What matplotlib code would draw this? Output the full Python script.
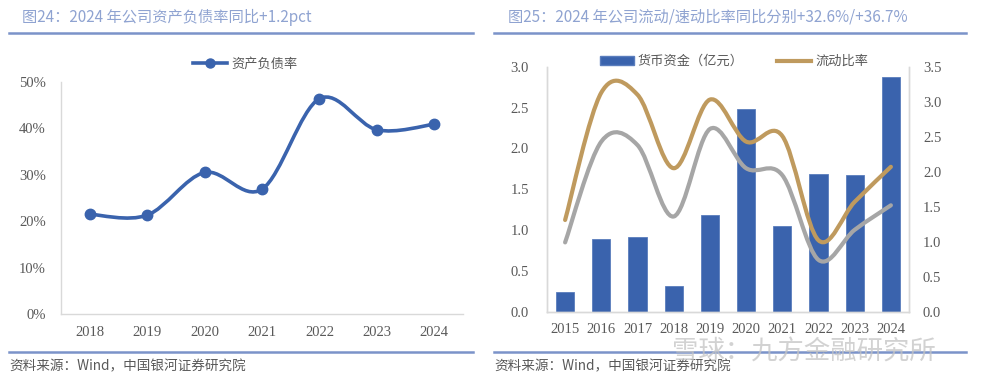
import matplotlib
matplotlib.use("Agg")
import matplotlib.pyplot as plt
from matplotlib.path import Path
from matplotlib.patches import PathPatch
from matplotlib.lines import Line2D
from matplotlib.patches import Patch
from matplotlib.ticker import FuncFormatter, MultipleLocator
import numpy as np

plt.rcParams['font.family'] = ['Noto Sans CJK SC', 'DejaVu Sans']

# ---------------- data ----------------
years_l = ['2018', '2019', '2020', '2021', '2022', '2023', '2024']
debt_ratio = [0.215, 0.213, 0.305, 0.269, 0.464, 0.397, 0.409]

years_r = ['2015', '2016', '2017', '2018', '2019', '2020', '2021', '2022', '2023', '2024']
cash = [0.24, 0.89, 0.91, 0.32, 1.19, 2.48, 1.05, 1.69, 1.68, 2.87]
current_ratio = [1.31, 3.13, 3.10, 2.05, 3.03, 2.43, 2.51, 1.02, 1.57, 2.07]
quick_ratio = [0.99, 2.43, 2.38, 1.36, 2.61, 2.05, 1.95, 0.74, 1.17, 1.52]

title_l = '图24：2024 年公司资产负债率同比+1.2pct'
title_r = '图25：2024 年公司流动/速动比率同比分别+32.6%/+36.7%'
source = '资料来源：Wind，中国银河证券研究院'
watermark = '雪球：九方金融研究所'

BLUE = '#3a63ad'
GOLD = '#bf9a5e'
GRAY = '#a6a6a6'
TXT = '#595959'
TITLE_C = '#8fa3d1'
RULE_C = '#7b93c9'
SPINE_C = '#d9d9d9'
TICKFONT = 'Liberation Serif'


def smooth_path(xs, ys):
    xs = np.asarray(xs, float)
    ys = np.asarray(ys, float)
    n = len(xs)
    verts = [(xs[0], ys[0])]
    codes = [Path.MOVETO]
    for i in range(n - 1):
        p0 = i - 1 if i > 0 else i
        p3 = i + 2 if i + 2 < n else i + 1
        c1 = (xs[i] + (xs[i + 1] - xs[p0]) / 6.0, ys[i] + (ys[i + 1] - ys[p0]) / 6.0)
        c2 = (xs[i + 1] - (xs[p3] - xs[i]) / 6.0, ys[i + 1] - (ys[p3] - ys[i]) / 6.0)
        verts += [c1, c2, (xs[i + 1], ys[i + 1])]
        codes += [Path.CURVE4] * 3
    return Path(verts, codes)


fig = plt.figure(figsize=(9.82, 3.82), dpi=100)

# ---------- decorations ----------
fig.text(22 / 982, 1 - 17 / 382, title_l, fontsize=11, color=TITLE_C, va='center', ha='left')
fig.text(508 / 982, 1 - 17 / 382, title_r, fontsize=11, color=TITLE_C, va='center', ha='left')
for x0, x1 in [(9, 473), (494, 966)]:
    for yy in (33, 352):
        fig.add_artist(Line2D([x0 / 982, x1 / 982], [1 - yy / 382, 1 - yy / 382],
                              color=RULE_C, lw=1.8, transform=fig.transFigure))
fig.text(9 / 982, 1 - 366 / 382, source, fontsize=9.8, color=TXT, va='center', ha='left', style='italic')
fig.text(494 / 982, 1 - 366 / 382, source, fontsize=9.8, color=TXT, va='center', ha='left', style='italic')

# watermark
fig.text(672 / 982, 1 - 352 / 382, watermark, fontsize=19, color='#c4c4c4',
         alpha=0.75, va='center', ha='left', zorder=10)

# ---------- left chart ----------
axl = fig.add_axes([61 / 982, 1 - 314 / 382, (463 - 61) / 982, (314 - 82) / 382])
xl = np.arange(len(years_l))
axl.add_patch(PathPatch(smooth_path(xl, debt_ratio), facecolor='none', edgecolor=BLUE,
                        lw=2.6, capstyle='round', joinstyle='round', zorder=3))
axl.plot(xl, debt_ratio, 'o', color=BLUE, ms=7.5, zorder=4)
axl.set_xlim(-0.5, len(years_l) - 0.5)
axl.set_ylim(0, 0.5)
axl.yaxis.set_major_locator(MultipleLocator(0.1))
axl.yaxis.set_major_formatter(FuncFormatter(lambda v, p: f'{v*100:.0f}%'))
axl.set_xticks(xl)
axl.set_xticklabels(years_l)
for s in ['top', 'right']:
    axl.spines[s].set_visible(False)
for s in ['left', 'bottom']:
    axl.spines[s].set_color(SPINE_C)
    axl.spines[s].set_linewidth(1.0)
axl.tick_params(axis='both', length=0, colors=TXT, labelsize=10.5)
axl.tick_params(axis='y', pad=11)
axl.tick_params(axis='x', pad=9)
for lab in axl.get_xticklabels() + axl.get_yticklabels():
    lab.set_fontfamily(TICKFONT)
hl = Line2D([], [], color=BLUE, lw=2.6, marker='o', ms=6.5)
axl.legend([hl], ['资产负债率'], loc='center', bbox_to_anchor=((245 - 61) / 402, 1 + (82 - 64) / 232),
           frameon=False, fontsize=9.5, handlelength=2.6, handletextpad=0.3, labelcolor=TXT)

# ---------- right chart ----------
axr = fig.add_axes([547 / 982, 1 - 311.7 / 382, (909 - 547) / 982, (311.7 - 66.7) / 382])
xr = np.arange(len(years_r))
axr.bar(xr, cash, width=0.5, color=BLUE, edgecolor='#5a7dbd', linewidth=0.6, zorder=2)
axr.set_xlim(-0.5, len(years_r) - 0.5)
axr.set_ylim(0, 3.0)
axr.yaxis.set_major_locator(MultipleLocator(0.5))
axr.yaxis.set_major_formatter(FuncFormatter(lambda v, p: f'{v:.1f}'))
axr.set_xticks(xr)
axr.set_xticklabels(years_r)

ax2 = axr.twinx()
ax2.set_ylim(0, 3.5)
ax2.yaxis.set_major_locator(MultipleLocator(0.5))
ax2.yaxis.set_major_formatter(FuncFormatter(lambda v, p: f'{v:.1f}'))
ax2.add_patch(PathPatch(smooth_path(xr, quick_ratio), facecolor='none', edgecolor=GRAY,
                        lw=3.0, capstyle='round', joinstyle='round', zorder=3))
ax2.add_patch(PathPatch(smooth_path(xr, current_ratio), facecolor='none', edgecolor=GOLD,
                        lw=3.0, capstyle='round', joinstyle='round', zorder=4))

for a in (axr, ax2):
    a.spines['top'].set_visible(False)
    for s in ['left', 'right', 'bottom']:
        a.spines[s].set_color(SPINE_C)
        a.spines[s].set_linewidth(1.0)
    a.tick_params(axis='both', length=0, colors=TXT, labelsize=10.5)
axr.tick_params(axis='y', pad=13)
axr.tick_params(axis='x', pad=8)
ax2.tick_params(axis='y', pad=10)
for lab in axr.get_xticklabels() + axr.get_yticklabels() + ax2.get_yticklabels():
    lab.set_fontfamily(TICKFONT)

hb = Patch(facecolor=BLUE, edgecolor='#5a7dbd')
hg = Line2D([], [], color=GOLD, lw=3.0)
ax2.legend([hb, hg], ['货币资金（亿元）', '流动比率'], loc='center',
           bbox_to_anchor=((734 - 547) / 362, 1 + (66.7 - 61.7) / 245), ncol=2,
           frameon=False, fontsize=9.5, handlelength=2.6, handletextpad=0.3,
           columnspacing=2.5, labelcolor=TXT)

fig.savefig('out.png', dpi=100)
